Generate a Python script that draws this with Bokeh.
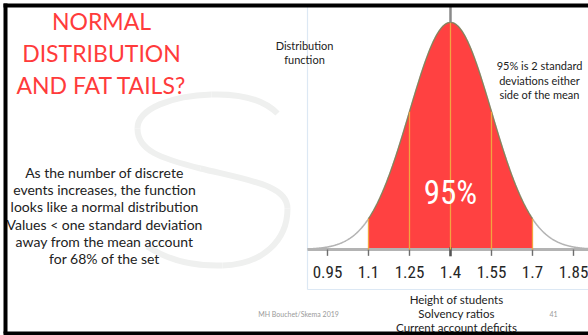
import numpy as np
from bokeh.plotting import figure
from bokeh.models import Range1d
from bokeh.core.properties import value
from bokeh.embed import file_html
from bokeh.resources import INLINE

# --- chart values -------------------------------------------------------
MEAN = 1.4
SD = 0.15
TICK_VALUES = [0.95, 1.1, 1.25, 1.4, 1.55, 1.7, 1.85]
TICK_LABELS = ["0.95", "1.1", "1.25", "1.4", "1.55", "1.7", "1.85"]
SIGMA_LINES = [1.1, 1.25, 1.4, 1.55, 1.7]
SHADE_FROM, SHADE_TO = 1.1, 1.7
SHADE_LABEL = "95%"

TITLE_LINES = ["NORMAL", "DISTRIBUTION", "AND FAT TAILS?"]
BODY_LINES = [
    "As the number of discrete",
    "events increases, the function",
    "looks like a normal distribution",
    "Values < one standard deviation",
    "away from the mean account",
    "for 68% of the set",
]
CURVE_NOTE = ["Distribution", "function"]
SIDE_NOTE = ["95% is 2 standard", "deviations either", "side of the mean"]
EXAMPLES = ["Height of students", "Solvency ratios", "Current account deficits"]
FOOTER = "MH Bouchet/Skema 2019"
PAGE_NO = "41"

W, H = 588, 335
RED = "#ff4141"
NARROW = "'Roboto Condensed', 'Liberation Sans', sans-serif"


def density(x):
    """Normal curve scaled so its peak equals 1."""
    x = np.asarray(x, dtype=float)
    return np.exp(-0.5 * ((x - MEAN) / SD) ** 2)


# main ranges are in chart units; "px"/"py" ranges lay out the slide in pixels
p = figure(
    width=W, height=H,
    x_range=Range1d(-0.2463, 1.9049), y_range=Range1d(-0.3789, 1.0969),
    x_axis_location=None, y_axis_location=None,
    toolbar_location=None, output_backend="svg",
    min_border=0, outline_line_color=None,
    background_fill_color="white", border_fill_color="white",
)
p.grid.visible = False
p.extra_x_ranges["px"] = Range1d(0, W)
p.extra_y_ranges["py"] = Range1d(H, 0)
PX = dict(x_range_name="px", y_range_name="py")

# faint "S" watermark
s_path = [
    (277, 113, 263, 99, 240, 93, 211, 94),
    (211, 94, 172, 95, 137, 108, 137, 128),
    (137, 128, 137, 150, 160, 158, 200, 168),
    (200, 168, 250, 180, 287, 185, 287, 208),
    (287, 208, 287, 240, 262, 264, 222, 265),
    (222, 265, 190, 266, 165, 258, 147, 246),
]
sp = np.array(s_path, dtype=float)
p.bezier(x0=sp[:, 0], y0=sp[:, 1], cx0=sp[:, 2], cy0=sp[:, 3],
         cx1=sp[:, 4], cy1=sp[:, 5], x1=sp[:, 6], y1=sp[:, 7],
         line_color="#eff0ef", line_width=6, **PX)

# light frame of the chart panel
p.segment(x0=[307, 307], y0=[5, 289], x1=[307, W], y1=[289, 289],
          line_color="#dce8f4", line_width=1.2, **PX)

# curve: grey tails, red shaded centre
xs = np.linspace(0.877, 1.905, 600)
p.line(xs, density(xs), line_color="#b4b4b4", line_width=1.6)
xin = np.linspace(SHADE_FROM, SHADE_TO, 300)
p.varea(x=xin, y1=np.zeros_like(xin), y2=density(xin), fill_color=RED)
p.line(xin, density(xin), line_color="#85845a", line_width=1.2)

# baseline and ticks
p.segment(x0=[0.877], y0=[0], x1=[1.905], y1=[0], line_color="#b3b3b3", line_width=3)
p.segment(x0=TICK_VALUES, y0=[0] * len(TICK_VALUES), x1=TICK_VALUES,
          y1=[-0.028] * len(TICK_VALUES), line_color="#6e6e6e", line_width=1.4)
p.segment(x0=[MEAN], y0=[0.01], x1=[MEAN], y1=[-0.03], line_color="#555555", line_width=2.5)

# standard-deviation markers
p.segment(x0=SIGMA_LINES, y0=[0] * len(SIGMA_LINES), x1=SIGMA_LINES,
          y1=density(SIGMA_LINES), line_color="#f2a440", line_width=1.3)
p.segment(x0=[MEAN], y0=[1.0], x1=[MEAN], y1=[1.075], line_color="#8a8a8a", line_width=2.5)

p.text(x=[MEAN], y=[0.25], text=[SHADE_LABEL], text_align="center", text_baseline="middle",
       text_color="white", text_font=value(NARROW), text_font_size="33px")

p.text(x=TICK_VALUES, y=[0] * len(TICK_VALUES), text=TICK_LABELS, y_offset=23,
       text_align="center", text_baseline="middle", text_color="#262626",
       text_font=value(NARROW), text_font_size="17px")

# slide texts
p.text(x=[101] * 3, y=[20, 52, 84], text=TITLE_LINES, text_align="center",
       text_baseline="middle", text_color="#ff3b3b", text_font=value("Lato"),
       text_font_size="23px", **PX)
p.text(x=[104] * 6, y=[172 + 17.2 * i for i in range(6)], text=BODY_LINES,
       text_align="center", text_baseline="middle", text_color="#222222",
       text_font=value("Lato"), text_font_size="14px", **PX)
p.text(x=[304, 304], y=[45, 59], text=CURVE_NOTE, text_align="center",
       text_baseline="middle", text_color="#222222", text_font=value("Lato"),
       text_font_size="11px", **PX)
p.text(x=[539] * 3, y=[65, 80, 94], text=SIDE_NOTE, text_align="center",
       text_baseline="middle", text_color="#222222", text_font=value("Lato"),
       text_font_size="11px", **PX)
p.text(x=[456] * 3, y=[299, 313, 327], text=EXAMPLES, text_align="center",
       text_baseline="middle", text_color="#222222", text_font=value("Lato"),
       text_font_size="11.5px", **PX)
p.text(x=[298], y=[313], text=[FOOTER], text_align="center", text_baseline="middle",
       text_color="#9a9a9a", text_font=value("Lato"), text_font_size="7px", **PX)
p.text(x=[553], y=[313], text=[PAGE_NO], text_align="center", text_baseline="middle",
       text_color="#9a9a9a", text_font=value("Lato"), text_font_size="7px", **PX)

# black slide edges
p.quad(left=[3, 3, 3], right=[7, W, W], top=[3, 3, 331], bottom=[333, 7, 335],
       fill_color="black", line_color=None, **PX)

open("out.html", "w").write(file_html(p, INLINE))
